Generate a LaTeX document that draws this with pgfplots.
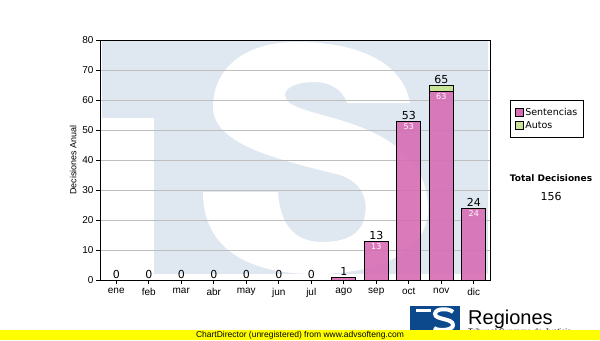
\documentclass[border=0pt]{standalone}
\usepackage{pgfplots}
\pgfplotsset{compat=1.18}
\usepackage{pgfplotstable}
\usepackage{fontspec}
\setmainfont{Liberation Sans}
\newfontfamily\dv{DejaVu Sans}

\definecolor{wm}{RGB}{223,232,241}
\definecolor{sent}{RGB}{214,108,180}
\definecolor{autosc}{RGB}{200,226,150}
\definecolor{gridc}{RGB}{190,190,190}
\definecolor{logob}{RGB}{12,72,140}
\definecolor{yellowband}{RGB}{255,255,0}

\pgfplotstableread{
x s sl
0 0 {}
1 0 {}
2 0 {}
3 0 {}
4 0 {}
5 0 {}
6 0 {}
7 1 {}
8 13 13
9 53 53
10 63 63
11 24 24
}\sentt

\pgfplotstableread{
x a t
0 0 0
1 0 0
2 0 0
3 0 0
4 0 0
5 0 0
6 0 0
7 0 1
8 0 13
9 0 53
10 2 65
11 0 24
}\autost

\pgfplotsset{
  commonaxis/.style={
    at={(100bp,60bp)}, anchor=south west,
    width=390bp, height=240bp, scale only axis,
    xmin=-0.5, xmax=11.5, ymin=0, ymax=80,
  }
}

\begin{document}
\begin{tikzpicture}[x=1bp,y=1bp]
\path[use as bounding box] (0,0) rectangle (600,340);
\fill[white] (0,0) rectangle (600,340);
% watermark (pixel coordinates, y downward)
\begin{scope}[shift={(0,340)}, yscale=-1]
  \fill[wm] (102,41) rectangle (488,274);
  \fill[white] (102,118) rectangle (154,281);
  \fill[white] (347,103) -- (410,103)
    .. controls (402,58) and (350,42) .. (297,42)
    .. controls (240,42) and (213,72) .. (213,107)
    .. controls (213,145) and (280,160) .. (340,175)
    .. controls (362,182) and (368,200) .. (365,215)
    .. controls (362,235) and (345,242) .. (322,242)
    .. controls (295,242) and (280,225) .. (278,192)
    -- (203,192)
    .. controls (203,250) and (250,274) .. (315,274)
    .. controls (390,274) and (428,245) .. (428,210)
    .. controls (428,160) and (390,135) .. (340,120)
    .. controls (305,110) and (285,106) .. (285,95)
    .. controls (285,86) and (300,82) .. (315,82)
    .. controls (330,82) and (343,90) .. (347,103) -- cycle;
\end{scope}
\begin{axis}[
  commonaxis,
  ytick={0,10,...,80},
  xtick={0,...,11},
  xticklabels={ene,feb,mar,abr,may,jun,jul,ago,sep,oct,nov,dic},
  tick pos=left,
  tick align=outside,
  major tick length=4bp,
  ymajorgrids,
  grid style={gridc, line width=0.8bp},
  axis line style={black, line width=1bp},
  tick style={black, line width=0.8bp},
  ybar stacked,
  bar width=24bp,
  /pgf/number format/assume math mode=true,
  ticklabel style={font=\fontsize{10bp}{12bp}\selectfont},
  yticklabel style={xshift=1bp},
  xticklabel style={yshift=-1bp},
  ylabel={Decisiones Anual},
  ylabel style={font=\fontsize{9bp}{11bp}\selectfont, at={(axis description cs:-0.069,0.5)}, anchor=center},
  legend style={at={(axis description cs:1.0513,0.75)}, anchor=north west,
    draw=black, line width=1bp, font=\dv\fontsize{9.5bp}{11bp}\selectfont,
    inner xsep=4bp, inner ysep=6bp, row sep=0bp},
  legend cell align=left,
  legend image code/.code={\draw[#1, draw=black, line width=0.8bp, fill opacity=1] (0bp,-3.5bp) rectangle (8bp,4.5bp);},
]
\addplot[fill=sent, fill opacity=0.9, draw=black, line width=1bp]
  table[x=x, y=s]{\sentt};
\addlegendentry{Sentencias}
\addplot[fill=autosc, draw=black, line width=1bp]
  table[x=x, y=a]{\autost};
\addlegendentry{Autos}
\end{axis}
% value labels
\begin{axis}[commonaxis, hide axis, clip=false]
\addplot[draw=none, mark=none, nodes near coords, point meta=explicit symbolic,
  every node near coord/.append style={anchor=south, text=black, font=\dv\fontsize{11bp}{12bp}\selectfont, inner sep=1bp}]
  table[x=x, y=t, meta=t]{\autost};
\addplot[draw=none, mark=none, nodes near coords, point meta=explicit symbolic,
  every node near coord/.append style={anchor=north, text=white, font=\dv\fontsize{8bp}{9bp}\selectfont, inner sep=2bp}]
  table[x=x, y=s, meta=sl]{\sentt};
\end{axis}
% right side texts
\node[font=\dv\bfseries\fontsize{9bp}{10bp}\selectfont] at (551,162) {Total Decisiones};
\node[font=\dv\fontsize{11bp}{12bp}\selectfont] at (551,144) {156};
% logo
\fill[logob] (410,10) rectangle (460,34);
\fill[white] (416,28) rectangle (431,31);
\draw[white, line width=4bp] (453,28) .. controls (449,32) and (435,32) .. (435,26) .. controls (435,20) and (453,22) .. (453,15) .. controls (453,9) and (437,9) .. (434,12);
\node[anchor=base west, font=\fontsize{20bp}{22bp}\selectfont, inner sep=0pt] at (468,16) {Regiones};
\node[anchor=base west, font=\fontsize{8bp}{9bp}\selectfont, inner sep=0pt] at (468,6) {Tribunal Supremo de Justicia};
% yellow band
\fill[yellowband] (0,0) rectangle (600,10);
\node[font=\fontsize{8.5bp}{9bp}\selectfont, inner sep=0pt] at (300,4.8) {ChartDirector (unregistered) from www.advsofteng.com};
\end{tikzpicture}
\end{document}
